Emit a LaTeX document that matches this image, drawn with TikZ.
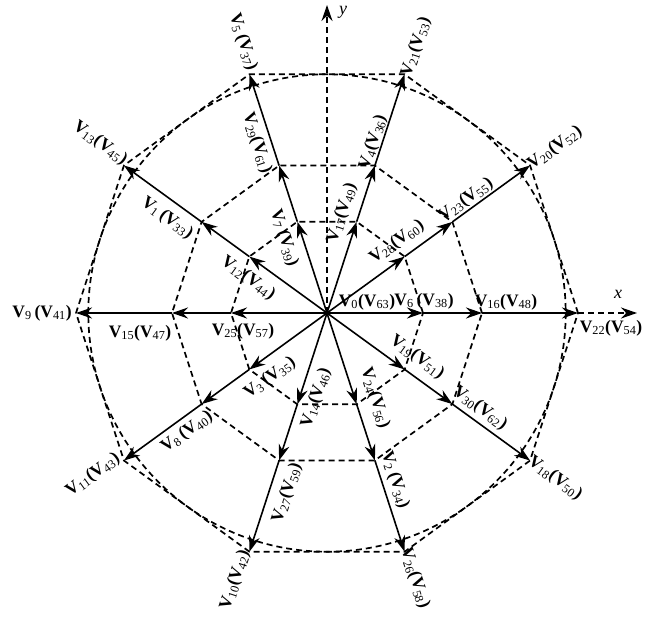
\documentclass[tikz,border=0pt]{standalone}
\usepackage{fontspec}
\setmainfont{Liberation Serif}
\usetikzlibrary{arrows.meta,calc}
\newcommand\vlab[2]{\textbf{V}\textsubscript{#1}\textbf{(V}\textsubscript{#2}\textbf{)}}
\newcommand\vlabs[2]{\textbf{V}\textsubscript{#1}\,\textbf{(V}\textsubscript{#2}\textbf{)}}
\begin{document}
\begin{tikzpicture}[x=1pt,y=-1pt,
  dsh/.style={dash pattern=on 6pt off 4pt, line width=1.7pt},
  vec/.style={line width=1.6pt, -{Stealth[length=16pt,width=11pt]}},
  ax/.style={dsh, -{Stealth[length=16pt,width=11pt]}},
  lab/.style={inner sep=0pt, font=\fontsize{17.5}{17.5}\selectfont},
  axlab/.style={inner sep=0pt, font=\fontsize{18}{18}\selectfont\itshape}]
\useasboundingbox (0,0) rectangle (655,618);
\coordinate (O) at (327,313);
\foreach \i in {0,...,9}{
  \pgfmathsetmacro\ang{-36*\i}
  \coordinate (a\i) at ($(O)+(\ang:96)$);
  \coordinate (b\i) at ($(O)+(\ang:155)$);
  \coordinate (c\i) at ($(O)+(\ang:251)$);
}
\coordinate (yt) at (327,5);
\coordinate (xt) at (637,313);
% dashed polygons and circle
\draw[dsh] (a0)--(a1)--(a2)--(a3)--(a4)--(a5)--(a6)--(a7)--(a8)--(a9)--cycle;
\draw[dsh] (b0)--(b1)--(b2)--(b3)--(b4)--(b5)--(b6)--(b7)--(b8)--(b9)--cycle;
\draw[dsh] (c0)--(c1)--(c2)--(c3)--(c4)--(c5)--(c6)--(c7)--(c8)--(c9)--cycle;
\draw[dsh] (O) circle[radius=238.7];
% axes
\draw[ax] (O) -- (yt);
\draw[ax] (c0) -- (xt);
\node[axlab] (ylab) at (343,12) {y};
\node[axlab] (xlab) at (618,294) {x};
% vectors
\foreach \i in {0,...,9}{
  \draw[vec] (O) -- (a\i);
  \draw[vec] (a\i) -- (b\i);
  \draw[vec] (b\i) -- (c\i);
}
% labels
\node[lab] (l0) at (367,302) {\vlab{0}{63}};
\node[lab] (l6) at (424,301) {\vlabs{6}{38}};
\node[lab] (l16) at (506,302) {\vlab{16}{48}};
\node[lab] (l22) at (611,328) {\vlab{22}{54}};
\node[lab,rotate=36] (l28) at (397,242) {\vlab{28}{60}};
\node[lab,rotate=36] (l23) at (466,200) {\vlab{23}{55}};
\node[lab,rotate=36] (l20) at (555,148) {\vlab{20}{52}};
\node[lab,rotate=72] (l17) at (342,213) {\vlab{17}{49}};
\node[lab,rotate=72] (l4) at (373,142) {\vlab{4}{36}};
\node[lab,rotate=72] (l21) at (416,47) {\vlab{21}{53}};
\node[lab,rotate=-72] (l7) at (284,238) {\vlabs{7}{39}};
\node[lab,rotate=-72] (l29) at (257,143) {\vlab{29}{61}};
\node[lab,rotate=-72] (l5) at (243,42) {\vlabs{5}{37}};
\node[lab,rotate=-36] (l12) at (248,278) {\vlab{12}{44}};
\node[lab,rotate=-36] (l1) at (167,218) {\vlabs{1}{33}};
\node[lab,rotate=-36] (l13) at (100,143) {\vlab{13}{45}};
\node[lab] (l25) at (243,331) {\vlab{25}{57}};
\node[lab] (l15) at (140,333) {\vlab{15}{47}};
\node[lab] (l9) at (42,313) {\vlabs{9}{41}};
\node[lab,rotate=36] (l3) at (270,378) {\vlabs{3}{35}};
\node[lab,rotate=36] (l8) at (187,432) {\vlabs{8}{40}};
\node[lab,rotate=36] (l11) at (93,475) {\vlab{11}{43}};
\node[lab,rotate=72] (l14) at (316,398) {\vlab{14}{46}};
\node[lab,rotate=72] (l27) at (287,493) {\vlab{27}{59}};
\node[lab,rotate=72] (l10) at (235,580) {\vlab{10}{42}};
\node[lab,rotate=-72] (l24) at (375,398) {\vlab{24}{56}};
\node[lab,rotate=-72] (l2) at (395,480) {\vlabs{2}{34}};
\node[lab,rotate=-72] (l26) at (415,578) {\vlab{26}{58}};
\node[lab,rotate=-36] (l19) at (417,357) {\vlab{19}{51}};
\node[lab,rotate=-36] (l30) at (480,408) {\vlab{30}{62}};
\node[lab,rotate=-36] (l18) at (555,478) {\vlab{18}{50}};
\end{tikzpicture}
\end{document}
